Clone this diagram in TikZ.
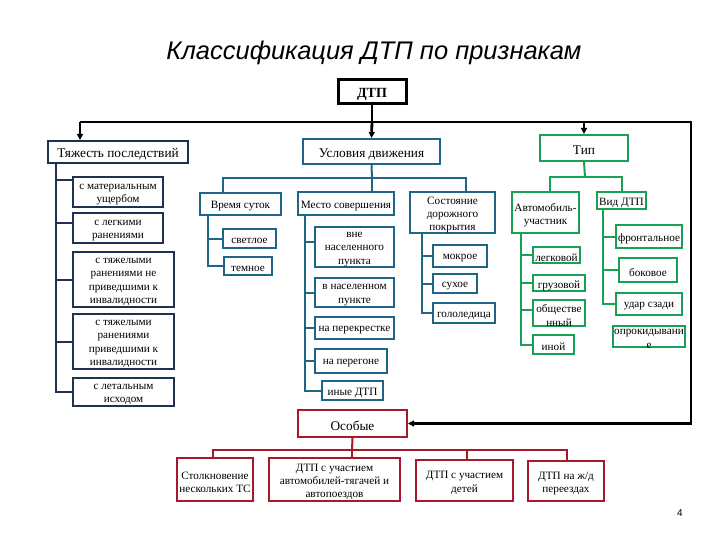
\documentclass[tikz,border=0pt]{standalone}
\usepackage{fontspec}
\setmainfont{Liberation Serif}
\newfontfamily\titlefont{Liberation Sans}
\usetikzlibrary{arrows.meta}
\definecolor{navy}{HTML}{1F3050}
\definecolor{tealb}{HTML}{1F6585}
\definecolor{greenb}{HTML}{18A055}
\definecolor{redb}{HTML}{A81828}
\newcommand\bx[7]{\node[#1, minimum width={(#5-#3)*1pt}, minimum height={(#6-#4)*1pt}] (#2) at ({(#3+#5)/2},{(#4+#6)/2}) {};
  \node[#1, draw=none, fill=none] (#2t) at ([yshift=-2.5pt]#2.center) {#7};}
\tikzset{
  bxs/.style={draw, line width=2pt, fill=white, inner sep=0pt, align=center, text=black, font=\fontsize{11.2}{13.2}\selectfont},
  hdr/.style={font=\fontsize{13.3}{15}\selectfont},
  tzb/.style={bxs, draw=navy},
  ucb/.style={bxs, draw=tealb},
  tpb/.style={bxs, draw=greenb},
  osb/.style={bxs, draw=redb},
  blk/.style={line width=2.8pt, draw=black},
  arr/.style={-{Triangle[length=6pt,width=6pt]}},
  tzl/.style={line width=2pt, draw=navy},
  ucl/.style={line width=2pt, draw=tealb},
  tpl/.style={line width=2pt, draw=greenb},
  osl/.style={line width=2pt, draw=redb},
}
\begin{document}
\begin{tikzpicture}[x=1pt,y=-1pt]
\useasboundingbox (0,0) rectangle (720,540);
\node[font=\titlefont\itshape\fontsize{25.5}{30}\selectfont] (title) at (374,53) {Классификация ДТП по признакам};
\node[font=\titlefont\fontsize{10}{12}\selectfont] (pnum) at (680,513) {4};

% boxes
\bx{bxs, draw=black, line width=3pt, font=\bfseries\fontsize{14}{16}\selectfont}{dtp}{338}{80}{406}{104}{ДТП}
\bx{tzb,hdr}{tz}{48}{141}{188}{163}{Тяжесть последствий}
\bx{ucb,hdr}{uc}{303}{139}{440}{164}{Условия движения}
\bx{tpb,hdr}{tp}{540}{135}{628}{161}{Тип}

\bx{tzb}{tz1}{73}{177}{163}{207}{с материальным\\ущербом}
\bx{tzb}{tz2}{73}{213}{163}{243}{с легкими\\ранениями}
\bx{tzb}{tz3}{73}{252}{174}{307}{с тяжелыми\\ранениями не\\приведшими к\\инвалидности}
\bx{tzb}{tz4}{73}{314}{174}{369}{с тяжелыми\\ранениями\\приведшими к\\инвалидности}
\bx{tzb}{tz5}{73}{378}{174}{406}{с летальным\\исходом}

\bx{ucb}{vs}{200}{193}{281}{215}{Время суток}
\bx{ucb}{sv}{223}{229}{276}{248}{светлое}
\bx{ucb}{tm}{224}{257}{272}{275}{темное}
\bx{ucb}{md}{298}{192}{394}{215}{Место совершения}
\bx{ucb}{m1}{315}{227}{394}{267}{вне\\населенного\\пункта}
\bx{ucb}{m2}{315}{278}{394}{307}{в населенном\\пункте}
\bx{ucb}{m3}{315}{317}{394}{339}{на перекрестке}
\bx{ucb}{m4}{315}{349}{387}{373}{на перегоне}
\bx{ucb}{m5}{322}{381}{383}{400}{иные ДТП}
\bx{ucb}{sp}{410}{192}{495}{233}{Состояние\\дорожного\\покрытия}
\bx{ucb}{s1}{433}{245}{487}{267}{мокрое}
\bx{ucb}{s2}{433}{274}{477}{293}{сухое}
\bx{ucb}{s3}{433}{303}{495}{323}{гололедица}

\bx{tpb}{au}{512}{192}{579}{233}{Автомобиль-\\участник}
\bx{tpb}{vd}{597}{192}{646}{209}{Вид ДТП}
\bx{tpb}{a1}{533}{247}{580}{263}{легковой}
\bx{tpb}{a2}{533}{275}{585}{291}{грузовой}
\bx{tpb}{a3}{533}{300}{585}{326}{обществе\\нный}
\bx{tpb}{a4}{533}{335}{574}{354}{иной}
\bx{tpb}{v1}{616}{225}{682}{248}{фронтальное}
\bx{tpb}{v2}{619}{258}{677}{282}{боковое}
\bx{tpb}{v3}{616}{293}{682}{315}{удар сзади}
\bx{tpb}{v4}{613}{326}{685}{347}{опрокидывани\\е}

\bx{osb,hdr}{os}{298}{410}{407}{437}{Особые}
\bx{osb}{o1}{177}{458}{253}{501}{Столкновение\\нескольких ТС}
\bx{osb}{o2}{269}{458}{400}{501}{ДТП с участием\\автомобилей-тягачей и\\автопоездов}
\bx{osb}{o3}{416}{460}{513}{501}{ДТП с участием\\детей}
\bx{osb}{o4}{528}{461}{604}{501}{ДТП на ж/д\\переездах}

% top connectors
\coordinate (hub) at (372,122);
\coordinate (hL) at (80,122);
\coordinate (hR) at (691,122);
\draw[blk] (dtp.south) -- (hub);
\draw[blk,arr] (hL) -- (hR) |- (os.east);
\draw[blk,arr] (hL) -- (hL |- tz.north);
\draw[blk,arr] (hub) -- (uc.north);
\draw[blk,arr] (tp.north |- hub) -- (tp.north);

% severity
\coordinate (tzs) at (56,163);
\draw[tzl] (tzs) |- ([yshift=12pt]tz1.west);
\draw[tzl] (tzs) |- ([yshift=5pt]tz2.west);
\draw[tzl] (tzs) |- (tz3.west);
\draw[tzl] (tzs) |- (tz4.west);
\draw[tzl] (tzs) |- (tz5.west);

% conditions
\coordinate (ub) at (372,178);
\coordinate (ubL) at (223,178);
\coordinate (ubR) at (466,178);
\draw[ucl] (uc.south) -- (ub);
\draw[ucl] (ubL |- vs.north) -- (ubL) -- (ubR) -- (ubR |- sp.north);
\draw[ucl] (ub) -- (ub |- md.north);
\coordinate (vss) at (208,215);
\draw[ucl] (vss) |- (sv.west);
\draw[ucl] (vss) |- (tm.west);
\coordinate (mds) at (305,215);
\draw[ucl] (mds) |- ([yshift=5pt]m1.west);
\draw[ucl] (mds) |- (m2.west);
\draw[ucl] (mds) |- (m3.west);
\draw[ucl] (mds) |- (m4.west);
\draw[ucl] (mds) |- (m5.west);
\coordinate (sps) at (422,233);
\draw[ucl] (sps) |- (s1.west);
\draw[ucl] (sps) |- (s2.west);
\draw[ucl] (sps) |- (s3.west);

% type
\coordinate (tb) at (585,177);
\coordinate (tbL) at (550,177);
\coordinate (tbR) at (622,177);
\draw[tpl] (tp.south) -- (tb);
\draw[tpl] (tbL |- au.north) -- (tbL) -- (tbR) -- (tbR |- vd.north);
\coordinate (aus) at (521,233);
\draw[tpl] (aus) |- (a1.west);
\draw[tpl] (aus) |- (a2.west);
\draw[tpl] (aus) |- ([yshift=3pt]a3.west);
\draw[tpl] (aus) |- (a4.west);
\coordinate (vds) at (603,209);
\draw[tpl] (vds) |- (v1.west);
\draw[tpl] (vds) |- (v2.west);
\draw[tpl] (vds) |- (v3.west);

% special
\coordinate (ob) at (352,450);
\coordinate (obL) at (213,450);
\coordinate (obR) at (567,450);
\coordinate (ob3) at (467,450);
\draw[osl] (os.south) -- (ob);
\draw[osl] (obL |- o1.north) -- (obL) -- (obR) -- (obR |- o4.north);
\draw[osl] (ob) -- (ob |- o2.north);
\draw[osl] (ob3) -- (ob3 |- o3.north);
\end{tikzpicture}
\end{document}
